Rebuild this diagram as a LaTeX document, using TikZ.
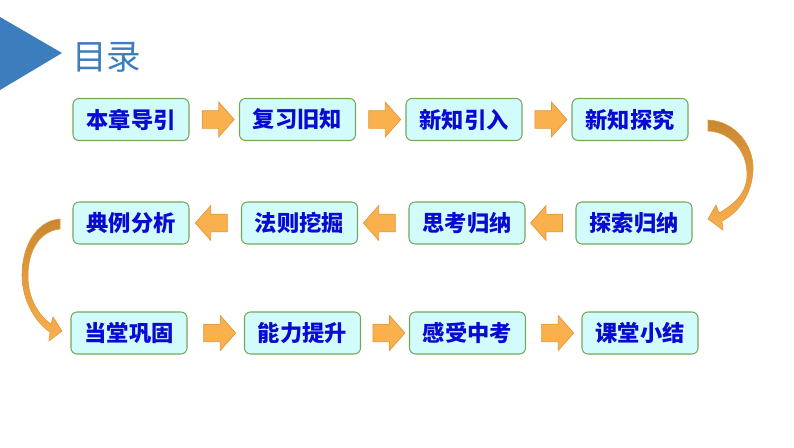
\documentclass[tikz,border=0pt]{standalone}
\usepackage{fontspec}
\newfontfamily\cjk{Noto Sans CJK SC}
\newfontfamily\cjkheavy{Noto Sans CJK SC Black}
\usetikzlibrary{shapes.arrows,calc}
\definecolor{titleblue}{HTML}{3B7DBD}
\definecolor{boxfill}{HTML}{D2FCFC}
\definecolor{boxline}{HTML}{76A65A}
\definecolor{boxtext}{HTML}{0A0AD2}
\definecolor{arrfill}{HTML}{FBB04E}
\definecolor{arrline}{HTML}{E29838}
\definecolor{arrdark}{HTML}{C98733}

\begin{document}
\begin{tikzpicture}[x=0.03cm,y=-0.03cm,
	box/.style={draw=boxline,line width=0.9pt,fill=boxfill,rounded corners=0.18cm,minimum width=3.48cm,minimum height=1.26cm,inner sep=0,text=boxtext,font=\cjkheavy\fontsize{19}{22}\selectfont},
	blockarrow/.style={single arrow,draw=arrline,fill=arrfill,line width=0.6pt,inner sep=0.255cm,minimum height=0.96cm,single arrow head extend=0.255cm,single arrow tip angle=97},
	bendarrow/.style={draw=arrline,line width=0.5pt,top color=arrdark,bottom color=arrfill}]
	\useasboundingbox (0,0) rectangle (794,447);
	\fill[titleblue] (0,17) -- (62,53) -- (0,90) -- cycle;
	\node[anchor=west,inner sep=0,text=titleblue,font=\cjk\fontsize{29.5}{32}\selectfont] (title) at (72,57) {目录};
	% first row
	\node[box] (1) at (131,119.5) {本章导引};
	\node[box] (2) at (297.5,119.5) {复习旧知};
	\node[box] (3) at (464,119.5) {新知引入};
	\node[box] (4) at (630,119.5) {新知探究};
	% second row
	\node[box] (5) at (634,223) {探索归纳};
	\node[box] (6) at (467,223) {思考归纳};
	\node[box] (7) at (299.5,223) {法则挖掘};
	\node[box] (8) at (131,223) {典例分析};
	% third row
	\node[box] (9) at (129,333) {当堂巩固};
	\node[box] (10) at (302.5,333) {能力提升};
	\node[box] (11) at (467.5,333) {感受中考};
	\node[box] (12) at (640,333) {课堂小结};
	\node[blockarrow] (a1) at ($(1.east)!0.5!(2.west)$) {};
	\node[blockarrow] (a2) at ($(2.east)!0.5!(3.west)$) {};
	\node[blockarrow] (a3) at ($(3.east)!0.5!(4.west)$) {};
	\node[blockarrow,shape border rotate=180] (a5) at ($(5.west)!0.5!(6.east)$) {};
	\node[blockarrow,shape border rotate=180] (a6) at ($(6.west)!0.5!(7.east)$) {};
	\node[blockarrow,shape border rotate=180] (a7) at ($(7.west)!0.5!(8.east)$) {};
	\node[blockarrow] (a9) at ($(9.east)!0.5!(10.west)$) {};
	\node[blockarrow] (a10) at ($(10.east)!0.5!(11.west)$) {};
	\node[blockarrow] (a11) at ($(11.east)!0.5!(12.west)$) {};
	% bent arrows
	\path[bendarrow] (708,120) .. controls (735,121) and (754,145) .. (753,170) .. controls (752,195) and (738,213) .. (722,221) -- (723,230) -- (708,219) -- (716,205) -- (719,213) .. controls (735,204) and (748,192) .. (747,172) .. controls (746,150) and (730,132) .. (708,131) -- cycle;
	\path[bendarrow] (60,219) .. controls (35,221) and (22,248) .. (22,275) .. controls (22,300) and (35,322) .. (50,332) -- (49,341) -- (62,331) -- (53,317) -- (51,324) .. controls (38,315) and (28,298) .. (28,276) .. controls (28,250) and (40,231) .. (60,229) -- cycle;
\end{tikzpicture}
\end{document}
